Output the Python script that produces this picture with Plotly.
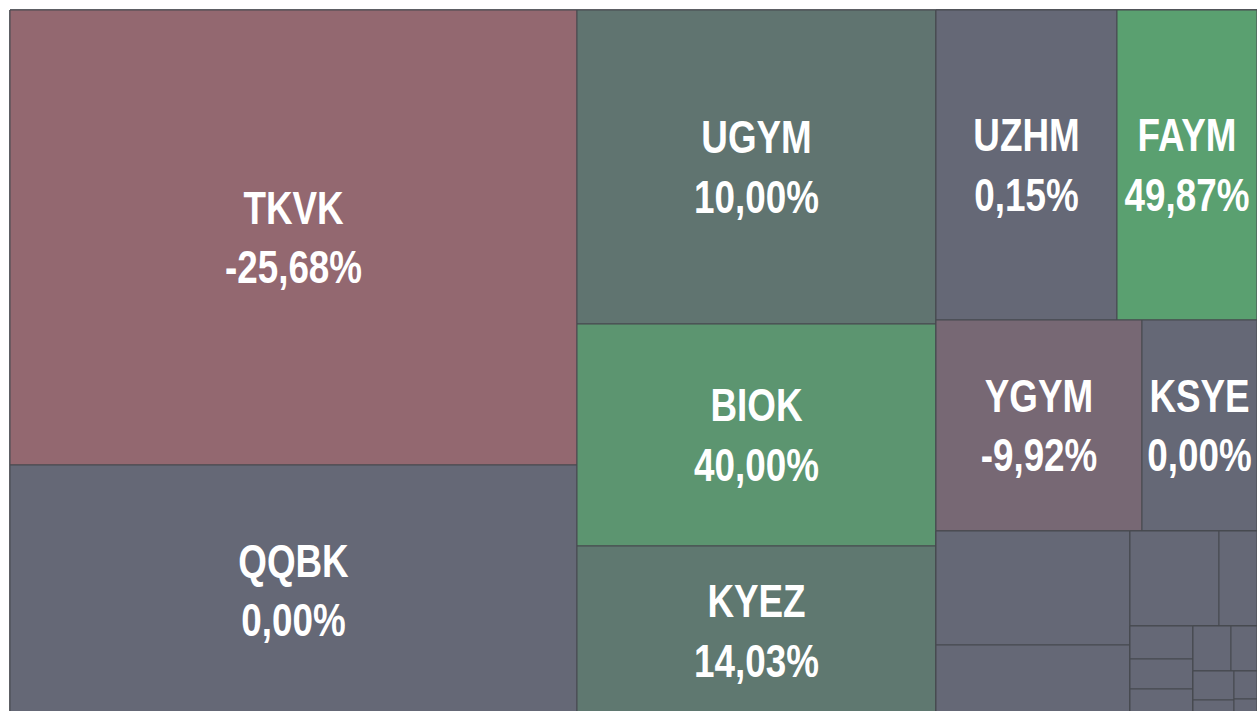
import plotly.graph_objects as go

# ---- data -------------------------------------------------------------
# leaf tiles: ticker, weight (tile size) and percentage change
tickers = ["TKVK", "QQBK", "UGYM", "BIOK", "KYEZ", "UZHM", "FAYM", "YGYM", "KSYE",
           "S01", "S02", "S03", "S04", "S05", "S06", "S07", "S08", "S09", "S10", "S11", "S12", "S13"]
weights = [257985, 142317, 112726, 79698, 61030, 56110, 43400, 43466, 24265,
           22116, 13774, 8455, 3610, 2079, 1890, 1701, 1710, 1170, 1189, 656, 644, 391]
changes = [-25.68, 0.00, 10.00, 40.00, 14.03, 0.15, 49.87, -9.92, 0.00,
           0, 0, 0, 0, 0, 0, 0, 0, 0, 0, 0, 0, 0]
show_label = [True] * 9 + [False] * 13

# grouping of the tiles (reproduces the nesting of the layout)
leaf_groups = ["C1", "C1", "C2", "C2", "C2", "R1", "R1", "R2", "R2",
               "AB", "AB", "CD", "CD", "EFG", "EFG", "EFG", "HI", "HI", "JK", "JK", "LM", "LM"]
group_ids = ["C1", "C2", "C3", "R1", "R2", "R3", "AB", "RP", "CD", "LW", "EFG", "RT", "HI", "LW2", "JK", "LM"]
group_parents = ["", "", "", "C3", "C3", "C3", "R3", "R3", "RP", "RP", "LW", "LW", "RT", "RT", "LW2", "LW2"]

# ---- build trace arrays ------------------------------------------------
ids = group_ids + tickers
labels = [""] * len(group_ids) + tickers
parents = group_parents + leaf_groups
values = [0] * len(group_ids) + weights
color_vals = [0] * len(group_ids) + changes
pct_text = [""] * len(group_ids) + [f"{v:.2f}".replace(".", ",") + "%" for v in changes]
templates = [""] * len(group_ids) + ["%{label}<br>%{text}" if s else "" for s in show_label]

CMIN, CMAX = -30.0, 50.0
def stop(v):
    return (v - CMIN) / (CMAX - CMIN)

colorscale = [
    [stop(-30), "#9b686f"],
    [stop(0), "#656876"],
    [stop(10), "#607470"],
    [stop(50), "#5aa070"],
]

fig = go.Figure(go.Treemap(
    ids=ids,
    labels=labels,
    parents=parents,
    values=values,
    branchvalues="remainder",
    text=pct_text,
    texttemplate=templates,
    textposition="middle center",
    textfont=dict(family="Liberation Sans Narrow, Arial Narrow, Liberation Sans, Arial",
                  size=46, color="white", weight="bold"),
    marker=dict(colors=color_vals, colorscale=colorscale, cmin=CMIN, cmax=CMAX,
                line=dict(color="#46494f", width=1), showscale=False,
                pad=dict(t=0, l=0, r=0, b=0)),
    tiling=dict(packing="slice-dice", pad=0),
    pathbar=dict(visible=False),
    sort=False,
    hoverinfo="label+text",
))

fig.update_layout(
    width=1257, height=716,
    margin=dict(l=10, r=0, t=10, b=0),
    paper_bgcolor="white",
    uniformtext=dict(minsize=46, mode="show"),
)

squeeze_js = """
document.documentElement.style.overflow = 'hidden';
document.body.style.margin = '0';
var gd = document.getElementById('{plot_id}');
function squeeze(){
  gd.querySelectorAll('text.slicetext').forEach(function(t){
    var tr = t.getAttribute('transform') || '';
    if (tr.indexOf('scale(0.8,1)') < 0) { t.setAttribute('transform', tr + ' scale(0.8,1)'); }
  });
}
squeeze();
gd.on('plotly_afterplot', squeeze);
"""

fig.write_html("out.html", post_script=squeeze_js, config={"displayModeBar": False})
